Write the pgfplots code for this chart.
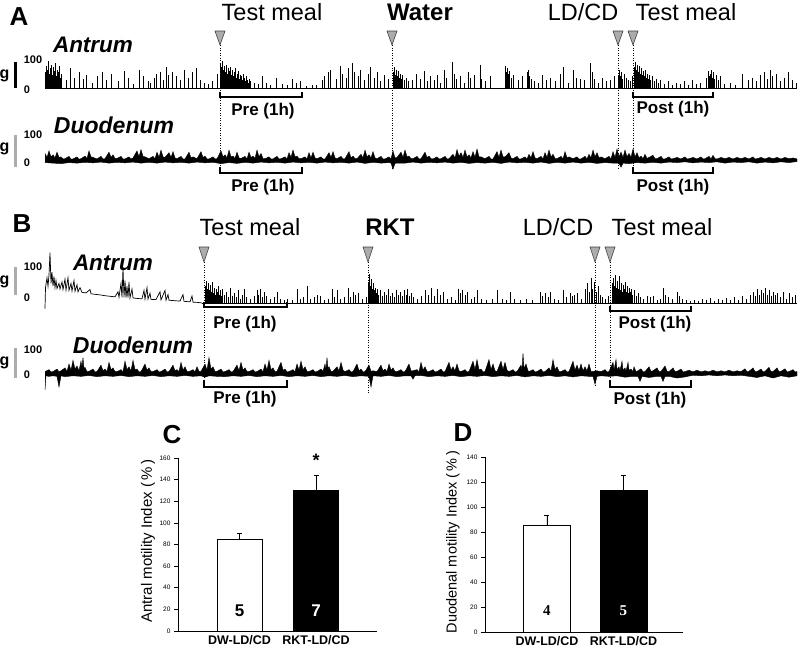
\documentclass[border=0pt]{standalone}
\usepackage{fontspec}
\setmainfont{Liberation Sans}
\newfontfamily\seriffont{Liberation Serif}
\usepackage{pgfplots}
\pgfplotsset{compat=1.18}
\newcommand{\fs}[1]{\fontsize{#1}{#1}\selectfont}
\tikzset{tri/.style={fill=gray!65, draw=black!75, line width=0.6pt},
  dl/.style={black, line width=1pt, dash pattern=on 1pt off 1.5pt},
  br/.style={line width=1.6pt},
  gl/.style={font=\bfseries\fs{16}}, hl/.style={font=\bfseries\fs{11}},
  pl/.style={font=\bfseries\fs{17}, anchor=base}}
\begin{document}
\begin{tikzpicture}
% ---------------- background axis in pixel coordinates ----------------
\begin{axis}[name=bg, at={(0pt,0pt)}, anchor=south west, scale only axis,
  width=800pt, height=649pt, xmin=0, xmax=800, ymin=0, ymax=649,
  y dir=reverse, axis lines=none, clip=false]
\addplot[draw=none] coordinates {(0,0)};
\node[font=\bfseries\fs{26}, anchor=base] at (axis cs:19,25) {A};
\node[font=\fs{23.5}, anchor=base] at (axis cs:272,20) {Test meal};
\node[font=\bfseries\fs{24}, anchor=base] at (axis cs:420,20) {Water};
\node[font=\fs{23.5}, anchor=base] at (axis cs:583,20) {LD/CD};
\node[font=\fs{23.5}, anchor=base] at (axis cs:686,20) {Test meal};
\node[font=\bfseries\itshape\fs{22.5}, anchor=base] at (axis cs:93,52) {Antrum};
\node[font=\bfseries\itshape\fs{23}, anchor=base] at (axis cs:114,133) {Duodenum};
\node[font=\bfseries\fs{26}, anchor=base] at (axis cs:22,232) {B};
\node[font=\fs{23.5}, anchor=base] at (axis cs:250,235) {Test meal};
\node[font=\bfseries\fs{24}, anchor=base] at (axis cs:390,235) {RKT};
\node[font=\fs{23.5}, anchor=base] at (axis cs:558,235) {LD/CD};
\node[font=\fs{23.5}, anchor=base] at (axis cs:662,235) {Test meal};
\node[font=\bfseries\itshape\fs{22.5}, anchor=base] at (axis cs:113,270) {Antrum};
\node[font=\bfseries\itshape\fs{23}, anchor=base] at (axis cs:133,353) {Duodenum};
\node[font=\bfseries\fs{26}] at (axis cs:172,435) {C};
\node[font=\bfseries\fs{26}] at (axis cs:463,433) {D};
% scale bars
\draw[line width=3pt, black] (axis cs:15,62) -- (axis cs:15,88);
\draw[line width=3pt, gray!65] (axis cs:15,135) -- (axis cs:15,167);
\draw[line width=3pt, gray!65] (axis cs:15,267) -- (axis cs:15,295);
\draw[line width=3pt, gray!65] (axis cs:15,348) -- (axis cs:15,378);
\node[gl] at (axis cs:4.5,76) {g};
\node[hl] at (axis cs:33,60) {100};
\node[hl] at (axis cs:27,90) {0};
\node[gl] at (axis cs:4.5,149) {g};
\node[hl] at (axis cs:33,135) {100};
\node[hl] at (axis cs:27,163) {0};
\node[gl] at (axis cs:4.5,282) {g};
\node[hl] at (axis cs:33,267) {100};
\node[hl] at (axis cs:27,298) {0};
\node[gl] at (axis cs:4.5,363) {g};
\node[hl] at (axis cs:33,350) {100};
\node[hl] at (axis cs:27,375) {0};
% triangles
\draw[tri] (axis cs:215,31) -- (axis cs:225,31) -- (axis cs:220,45) -- cycle;
\draw[tri] (axis cs:387,31) -- (axis cs:397,31) -- (axis cs:392,45) -- cycle;
\draw[tri] (axis cs:613,31) -- (axis cs:623,31) -- (axis cs:618,45) -- cycle;
\draw[tri] (axis cs:628,31) -- (axis cs:638,31) -- (axis cs:633,45) -- cycle;
\draw[tri] (axis cs:199,247) -- (axis cs:209,247) -- (axis cs:204,262) -- cycle;
\draw[tri] (axis cs:363,247) -- (axis cs:373,247) -- (axis cs:368,262) -- cycle;
\draw[tri] (axis cs:590,247) -- (axis cs:600,247) -- (axis cs:595,262) -- cycle;
\draw[tri] (axis cs:605,247) -- (axis cs:615,247) -- (axis cs:610,262) -- cycle;
% dotted lines
\draw[dl] (axis cs:220,45) -- (axis cs:220,172);
\draw[dl] (axis cs:392,45) -- (axis cs:392,170);
\draw[dl] (axis cs:618,45) -- (axis cs:618,170);
\draw[dl] (axis cs:633,45) -- (axis cs:633,170);
\draw[dl] (axis cs:204,262) -- (axis cs:204,387);
\draw[dl] (axis cs:368,262) -- (axis cs:368,393);
\draw[dl] (axis cs:595,262) -- (axis cs:595,385);
\draw[dl] (axis cs:610,262) -- (axis cs:610,387);
% brackets
\draw[br] (axis cs:220,92) -- (axis cs:220,97) -- (axis cs:302,97) -- (axis cs:302,92);
\draw[br] (axis cs:220,167) -- (axis cs:220,173) -- (axis cs:302,173) -- (axis cs:302,167);
\draw[br] (axis cs:633,92) -- (axis cs:633,97) -- (axis cs:713,97) -- (axis cs:713,92);
\draw[br] (axis cs:633,167) -- (axis cs:633,173) -- (axis cs:713,173) -- (axis cs:713,167);
\draw[br] (axis cs:204,302) -- (axis cs:204,307) -- (axis cs:287,307) -- (axis cs:287,302);
\draw[br] (axis cs:204,380) -- (axis cs:204,387) -- (axis cs:287,387) -- (axis cs:287,380);
\draw[br] (axis cs:610,306) -- (axis cs:610,311) -- (axis cs:691,311) -- (axis cs:691,306);
\draw[br] (axis cs:610,380) -- (axis cs:610,387) -- (axis cs:691,387) -- (axis cs:691,380);
\node[pl] at (axis cs:263,115) {Pre (1h)};
\node[pl] at (axis cs:263,191) {Pre (1h)};
\node[pl] at (axis cs:673,113) {Post (1h)};
\node[pl] at (axis cs:673,191) {Post (1h)};
\node[pl] at (axis cs:245,328) {Pre (1h)};
\node[pl] at (axis cs:245,403) {Pre (1h)};
\node[pl] at (axis cs:655,328) {Post (1h)};
\node[pl] at (axis cs:650,404) {Post (1h)};
\end{axis}

% ---------------- A: antrum trace ----------------
\begin{axis}[at={(0pt,561pt)}, anchor=south west, scale only axis, width=800pt, height=26pt,
  xmin=0, xmax=800, ymin=0, ymax=100, axis lines=none, clip=false]
\addplot[ycomb, black, line width=0.55pt, mark=none] coordinates {
(45,60)(46,85)(47,70)(48,105)(49,55)(50,75)(51,90)(52,50)(53,80)(54,65)(55,95)(56,45)(57,70)(58,60)(59,85)(60,40)(61,55)
(66,30)(70,75)(74,40)(79,60)(83,35)(86,50)(92,20)(97,45)(102,60)(106,30)(111,55)(118,25)(124,65)(128,40)(133,15)(139,70)(143,45)(148,25)(150,20)(154,40)(156,55)(160,60)(163,30)(166,80)(168,50)(172,60)(176,45)(180,30)(184,70)(188,40)(192,60)(196,75)(200,30)(204,20)(208,15)(212,25)(217,55)
(220,95)(221,80)(222,105)(223,70)(224,85)(225,60)(226,90)(227,55)(228,75)(229,65)(230,80)(231,50)(232,70)(233,45)(234,60)(235,75)(236,40)(237,55)(238,65)(239,35)(240,50)(241,45)(242,30)(243,55)(244,40)(245,25)(246,45)(247,30)(248,20)(249,35)(250,25)
(254,20)(258,15)(262,45)(266,20)(270,10)(276,40)(282,15)(287,10)(292,35)(296,20)(300,25)
(306,8)(312,10)(316,12)
(322,30)(324,45)(328,60)(330,70)(336,35)(340,85)(342,55)(346,40)(348,75)(352,95)(354,60)(358,45)(360,70)(364,30)(368,55)(370,80)(374,40)(377,60)(380,25)(384,50)(388,35)
(393,60)(394,80)(395,50)(396,70)(397,45)(398,65)(399,40)(400,55)(401,35)(402,50)(404,30)(406,40)(408,25)
(412,30)(416,55)(420,35)(424,65)(427,25)(430,45)(434,30)(437,50)(440,20)(444,70)(446,40)(452,100)(454,55)(456,35)(460,45)(464,20)(468,60)(470,40)(474,50)(480,90)(481,35)(485,25)(490,45)(505,85)(506,60)(507,75)(508,55)(509,65)(511,40)(513,50)(518,30)(522,45)(527,60)(528,70)(529,45)(531,35)(534,25)(538,20)(542,50)(546,30)(550,40)(555,25)(560,55)(563,80)(568,20)(573,70)(576,40)(580,35)(584,30)(590,95)(592,60)(594,35)(598,20)(602,40)(606,25)(610,30)(614,45)
(618,50)(619,70)(620,45)(621,60)(622,35)(624,55)(626,40)(628,30)(630,25)(632,45)
(634,80)(635,100)(636,70)(637,90)(638,60)(639,85)(640,55)(641,75)(642,50)(643,65)(644,45)(645,70)(646,40)(647,55)(648,35)(649,50)(650,30)(652,45)(654,25)(656,35)(658,20)(660,30)
(664,15)(668,25)(672,10)(676,20)(680,15)(684,25)(688,12)(692,30)(696,15)(700,20)
(706,40)(708,65)(709,45)(710,55)(711,70)(712,40)(713,60)(714,35)(716,50)(718,30)(720,45)
(724,15)(730,20)(735,10)(742,55)(748,30)(752,40)(756,25)(760,50)(764,60)(767,35)(770,70)(772,45)(776,55)(780,25)(784,40)(788,60)(792,30)(796,20)
};
\addplot[black, line width=0.9pt] coordinates {(45,0)(797,0)};
\end{axis}

% ---------------- A: duodenum trace (band between upper and lower envelope) ----------------
\begin{axis}[at={(0pt,489pt)}, anchor=south west, scale only axis, width=800pt, height=26pt,
  xmin=0, xmax=800, ymin=0, ymax=100, axis lines=none, clip=false]
\addplot[fill=black, draw=black, line width=0.4pt, mark=none] coordinates {
(45,25)(47,10)(49,35)(51,12)(53,20)(55,8)(57,30)(59,10)(61,12)(63,4)(65,5)(69,14)(71,3)(73,4)(77,12)(79,3)(81,5)(85,15)(87,6)(89,35)(91,12)(93,10)(97,4)(101,14)(103,4)(105,5)(109,30)(111,10)(113,20)(115,6)(117,6)(121,14)(123,4)(125,4)(129,12)(131,4)(133,8)(137,35)(139,12)(141,40)(143,14)(145,12)(149,5)(153,14)(155,5)(157,30)(159,10)(161,38)(163,12)(165,10)(169,28)(171,10)(173,32)(175,8)(177,5)(181,14)(183,4)(185,4)(189,30)(191,8)(193,12)(197,5)(201,32)(203,10)(205,15)(207,4)(209,4)(213,12)(215,4)(217,5)(221,35)(223,12)(225,20)(227,8)(229,38)(231,12)(233,15)(235,6)(237,30)(239,8)(241,6)(245,14)(247,4)(249,30)(251,10)(253,15)(255,6)(257,38)(259,12)(261,25)(263,6)(265,5)(269,12)(271,4)(273,4)(277,14)(279,4)(281,5)(285,12)(287,4)(289,28)(291,10)(293,38)(295,12)(297,15)(299,5)(301,5)(305,12)(307,4)(309,28)(311,8)(313,30)(315,8)(317,5)(321,12)(323,4)(325,4)(329,28)(331,10)(333,32)(335,8)(337,5)(341,14)(343,4)(345,5)(349,32)(351,8)(353,15)(355,5)(357,5)(361,22)(363,8)(365,38)(367,12)(369,20)(371,8)(373,32)(375,8)(377,5)(381,14)(383,4)(385,4)(389,12)(391,4)(393,35)(395,8)(397,10)(401,30)(403,10)(405,38)(407,12)(409,15)(411,5)(413,5)(417,14)(419,4)(421,5)(425,30)(427,10)(429,15)(431,5)(433,4)(437,12)(439,4)(441,5)(445,14)(447,4)(449,5)(453,22)(455,8)(457,40)(459,14)(461,28)(463,10)(465,38)(467,12)(469,20)(471,8)(473,32)(475,10)(477,42)(479,12)(481,12)(485,5)(489,14)(491,4)(493,4)(497,32)(499,10)(501,38)(503,12)(505,12)(509,28)(511,8)(513,5)(517,14)(519,4)(521,4)(525,12)(527,4)(529,22)(531,8)(533,32)(535,8)(537,5)(541,14)(543,4)(545,28)(547,10)(549,38)(551,12)(553,22)(555,6)(557,5)(561,14)(563,4)(565,32)(567,8)(569,12)(573,5)(577,12)(579,4)(581,4)(585,14)(587,4)(589,22)(591,8)(593,38)(595,12)(597,28)(599,8)(601,12)(605,5)(609,14)(611,4)(613,32)(615,10)(617,42)(619,12)(621,30)(623,10)(625,38)(627,12)(629,25)(631,10)(633,42)(635,12)(637,28)(639,8)(641,15)(643,5)(645,22)(647,6)(649,10)(653,18)(655,5)(657,5)(661,14)(663,4)(665,4)(669,12)(671,4)(673,5)(677,10)(681,4)(685,12)(687,4)(689,5)(693,10)(697,4)(701,12)(703,4)(705,5)(709,14)(711,4)(713,18)(715,5)(717,4)(721,10)(725,5)(729,10)(733,4)(737,10)(741,5)(745,10)(749,4)(753,12)(755,4)(757,5)(761,10)(765,4)(769,10)(773,5)(777,10)(781,4)(785,10)(789,5)(793,8)(797,4)
(797,-6)(789,-10)(781,-7)(773,-11)(765,-8)(757,-12)(749,-7)(741,-10)(733,-8)(725,-12)(717,-7)(709,-10)(701,-8)(693,-11)(685,-7)(677,-10)(669,-8)(661,-12)(653,-9)(645,-12)(637,-10)(629,-14)(623,-12)(621,-28)(619,-12)(613,-12)(605,-10)(597,-13)(589,-9)(581,-12)(573,-8)(565,-12)(557,-9)(549,-13)(541,-8)(533,-12)(525,-9)(517,-11)(509,-8)(501,-13)(493,-9)(485,-12)(477,-10)(469,-13)(461,-9)(453,-12)(445,-8)(437,-11)(429,-9)(421,-12)(413,-8)(405,-12)(397,-12)(395,-13)(393,-35)(391,-12)(389,-10)(381,-12)(373,-9)(365,-13)(357,-8)(349,-12)(341,-9)(333,-11)(325,-8)(317,-12)(309,-9)(301,-11)(293,-8)(285,-12)(277,-9)(269,-11)(261,-8)(253,-12)(245,-9)(237,-13)(229,-10)(221,-14)(213,-9)(205,-11)(197,-8)(189,-12)(181,-9)(173,-11)(165,-8)(157,-12)(149,-9)(141,-12)(133,-8)(125,-11)(117,-9)(109,-12)(101,-8)(93,-11)(85,-9)(77,-12)(69,-10)(61,-14)(53,-12)(45,-10)
};
\end{axis}

% ---------------- B: antrum trace ----------------
\begin{axis}[at={(0pt,346pt)}, anchor=south west, scale only axis, width=800pt, height=28pt,
  xmin=0, xmax=800, ymin=0, ymax=100, axis lines=none, clip=false]
\addplot[black, line width=0.7pt, mark=none] coordinates {
(45,-20)(45.5,55)(47,90)(48,60)(49,100)(50,180)(51,70)(52,110)(53,60)(54,95)(55,55)(56,80)(57,52)(59,70)(60,50)(62,75)(63,48)(65,85)(66,46)(68,90)(69,45)(71,70)(72,43)(74,80)(75,42)(77,65)(78,40)(80,55)(82,38)(86,36)(90,48)(91,33)(95,31)(100,29)(105,26)(110,24)(115,22)(118,40)(119,21)(121,70)(122,20)(123,125)(124,20)(125,80)(126,19)(127,60)(128,19)(129,75)(130,18)(132,50)(133,18)(138,16)(142,15)(144,45)(145,14)(147,55)(148,14)(150,35)(151,13)(156,12)(160,40)(161,11)(165,45)(166,10)(168,30)(169,10)(175,8)(180,7)(183,30)(184,6)(190,4)(192,25)(193,3)(198,2)(202,0)
};
\addplot[ycomb, black, line width=0.55pt, mark=none] coordinates {
(205,60)(206,80)(207,50)(208,70)(209,45)(210,65)(211,40)(212,75)(213,35)(214,55)(215,30)(216,50)(217,40)(218,60)(219,30)(220,45)(221,25)(222,50)(224,30)(226,40)(228,20)(230,55)(232,25)(234,35)(236,20)(238,45)(240,15)(242,30)(244,50)(246,20)(250,15)(254,25)(257,45)(258,30)(260,50)(262,20)(264,40)(266,25)(270,15)(274,20)(277,40)(280,15)(284,10)(287,15)(292,10)(297,50)(300,15)(303,20)(307,60)(310,15)(314,20)(317,30)(320,25)(324,10)(328,15)(332,50)(334,20)(337,45)(340,15)(344,20)(348,55)(350,20)(353,40)(355,30)(358,35)(362,15)(366,20)
(368,70)(369,105)(370,60)(371,85)(372,50)(373,70)(374,45)(375,55)(376,35)(377,50)(378,30)(380,45)(382,25)(384,40)(386,30)(388,50)(390,25)(392,35)(394,20)(396,45)(398,30)(400,40)(402,25)(404,45)(406,30)(407,50)(409,25)(411,35)(413,20)
(417,15)(421,25)(425,45)(428,30)(431,55)(434,25)(437,50)(440,30)(443,40)(447,15)(451,20)(455,10)(458,50)(460,35)(462,45)(465,30)(467,40)(471,15)(474,20)(477,45)(481,15)(486,10)(492,15)(497,45)(502,15)(506,10)(510,40)(514,15)(520,10)(526,15)(532,10)(540,40)(542,25)(545,35)(548,20)(550,40)(554,15)(558,10)(563,45)(566,20)(570,35)(572,25)(574,30)(577,35)(581,15)
(585,50)(587,70)(589,40)(591,90)(592,50)(594,75)(596,40)(598,60)(600,30)(602,20)(605,15)(608,25)
(612,70)(613,90)(614,60)(615,100)(616,55)(617,80)(618,50)(619,95)(620,45)(621,70)(622,40)(623,65)(624,50)(625,75)(626,40)(627,60)(628,35)(629,55)(630,40)(631,50)(632,30)(634,45)(636,25)(638,35)(640,20)(643,15)(647,25)(650,20)(653,25)(657,10)(660,15)(663,55)(665,30)(668,20)(672,15)(677,40)(679,25)(682,15)(686,10)(690,8)(694,12)(698,8)(702,15)(706,10)(710,18)(714,8)(718,15)(722,10)(726,18)(730,12)(734,20)(738,12)(742,25)(746,15)(750,30)(753,40)(755,25)(757,50)(759,30)(761,45)(763,35)(765,55)(767,30)(769,45)(771,25)(773,40)(775,30)(777,35)(780,20)(783,40)(786,15)(789,35)(792,20)(795,30)
};
\addplot[black, line width=0.9pt] coordinates {(202,0)(797,0)};
\end{axis}

% ---------------- B: duodenum trace (band) ----------------
\begin{axis}[at={(0pt,276pt)}, anchor=south west, scale only axis, width=800pt, height=28pt,
  xmin=0, xmax=800, ymin=0, ymax=100, axis lines=none, clip=false]
\addplot[fill=black, draw=black, line width=0.4pt, mark=none] coordinates {
(45,5)(49,12)(51,4)(53,5)(57,14)(59,4)(61,8)(65,18)(67,6)(69,32)(71,10)(73,45)(75,14)(77,25)(79,8)(81,42)(82,20)(83,55)(84,15)(85,20)(87,5)(89,6)(93,14)(95,4)(97,5)(101,28)(103,8)(105,14)(107,5)(109,38)(111,12)(113,18)(115,5)(117,5)(121,12)(123,4)(125,42)(127,12)(129,22)(131,8)(133,45)(135,12)(137,14)(139,4)(141,5)(145,32)(147,10)(149,18)(151,5)(153,5)(157,12)(159,4)(161,5)(165,14)(167,4)(169,5)(173,28)(175,8)(177,12)(179,5)(181,38)(183,10)(185,22)(187,6)(189,5)(193,12)(195,4)(197,22)(199,6)(201,6)(205,32)(207,10)(209,55)(211,14)(213,22)(215,6)(217,6)(221,14)(223,4)(225,5)(229,12)(231,4)(233,5)(237,28)(239,8)(241,38)(243,10)(245,18)(247,5)(249,5)(253,12)(255,4)(257,5)(261,14)(263,4)(265,32)(267,10)(269,45)(271,12)(273,18)(275,5)(277,6)(281,38)(283,10)(285,14)(287,4)(289,5)(293,12)(295,4)(297,32)(299,10)(301,42)(303,12)(305,22)(307,6)(309,5)(313,12)(315,4)(317,5)(321,14)(323,6)(325,32)(326,12)(327,55)(328,14)(329,22)(331,6)(333,6)(337,22)(339,8)(341,38)(343,10)(345,5)(349,12)(351,4)(353,5)(357,32)(359,8)(361,14)(363,4)(365,5)(369,28)(371,6)(373,8)(377,5)(381,28)(383,8)(385,14)(387,5)(389,32)(391,10)(393,18)(395,5)(397,5)(401,12)(403,4)(405,5)(409,32)(411,8)(413,8)(417,12)(419,4)(421,38)(423,10)(425,22)(427,6)(429,5)(433,12)(435,4)(437,5)(441,14)(443,4)(445,5)(449,38)(451,10)(453,22)(455,8)(457,32)(459,8)(461,5)(465,12)(467,4)(469,5)(473,42)(475,12)(477,48)(479,12)(481,14)(483,4)(485,5)(489,48)(491,12)(493,32)(495,8)(497,5)(501,42)(503,12)(505,38)(507,10)(509,5)(513,12)(515,4)(517,5)(521,28)(522,10)(523,70)(524,15)(526,32)(528,8)(529,5)(533,12)(535,4)(537,5)(541,14)(543,4)(545,5)(549,18)(551,6)(553,48)(555,12)(557,22)(559,6)(561,5)(565,12)(567,4)(569,5)(573,42)(575,10)(577,28)(579,8)(581,32)(583,8)(585,22)(587,8)(589,32)(591,6)(593,6)(597,8)(601,5)(605,12)(607,4)(609,5)(613,38)(614,10)(616,48)(617,12)(619,22)(620,8)(622,42)(623,10)(625,18)(626,6)(628,38)(629,10)(631,14)(633,5)(634,22)(636,5)(637,6)(641,15)(643,4)(645,5)(649,22)(651,6)(653,8)(657,18)(659,5)(661,6)(665,25)(667,6)(669,5)(673,18)(675,5)(677,6)(681,14)(683,4)(685,5)(689,10)(693,4)(697,10)(701,4)(705,8)(709,4)(713,10)(717,4)(721,8)(725,4)(729,10)(733,4)(737,8)(741,5)(745,15)(747,4)(749,6)(753,18)(755,5)(757,5)(761,14)(763,4)(765,6)(769,20)(771,5)(773,5)(777,18)(779,5)(781,6)(785,15)(787,4)(789,5)(793,12)(795,4)(797,5)
(797,-10)(789,-15)(781,-10)(773,-18)(765,-10)(757,-16)(749,-12)(741,-8)(733,-10)(725,-7)(717,-10)(709,-7)(701,-10)(693,-8)(685,-14)(677,-18)(669,-12)(665,-12)(663,-30)(661,-12)(657,-12)(649,-16)(642,-12)(640,-30)(638,-12)(633,-12)(625,-15)(617,-10)(609,-12)(601,-10)(597,-12)(595,-40)(593,-12)(589,-12)(581,-10)(573,-14)(565,-10)(557,-13)(549,-9)(541,-12)(533,-10)(525,-14)(517,-9)(509,-12)(501,-10)(493,-13)(485,-9)(477,-12)(469,-10)(461,-13)(453,-9)(445,-12)(437,-10)(429,-13)(421,-9)(415,-10)(413,-22)(411,-10)(405,-10)(397,-13)(389,-9)(381,-12)(373,-10)(371,-50)(369,-12)(361,-10)(353,-13)(345,-9)(337,-12)(329,-10)(321,-13)(313,-9)(305,-12)(297,-10)(289,-13)(281,-9)(273,-12)(265,-10)(257,-13)(249,-9)(241,-12)(233,-10)(225,-13)(217,-12)(209,-10)(205,-15)(201,-10)(193,-12)(185,-9)(177,-12)(169,-10)(161,-13)(153,-9)(145,-12)(137,-10)(129,-13)(121,-9)(113,-12)(105,-10)(97,-13)(89,-9)(81,-12)(73,-10)(65,-13)(61,-10)(59,-50)(57,-12)(53,-10)(49,-12)(46,-10)(45,-60)
};
\end{axis}

% ---------------- C: antral motility index ----------------
\begin{axis}[at={(178pt,18pt)}, anchor=south west, scale only axis,
  width=199pt, height=173pt, xmin=0.196, xmax=2.797, ymin=0, ymax=160,
  axis lines*=left, axis line style={line width=0.8pt},
  ytick={0,20,...,160}, xtick={1,2}, xticklabels={DW-LD/CD,RKT-LD/CD},
  xtick style={draw=none}, ytick style={black, line width=0.6pt},
  tick align=outside, major tick length=4pt,
  /pgf/number format/assume math mode=true,
  yticklabel style={font=\fs{6.5}},
  xticklabel style={font=\bfseries\fs{12.5}, yshift=3pt},
  ylabel={Antral motility Index (\thinspace\%\thinspace)},
  ylabel style={at={(axis description cs:-0.151,0.52)}, anchor=center, font=\fs{15}},
  ybar, bar width=45pt, clip=false]
\addplot[bar shift=0pt, fill=white, draw=black, line width=0.8pt,
  error bars/.cd, y dir=plus, y explicit,
  error bar style={line width=0.8pt, black},
  error mark options={rotate=90, mark size=2.5pt, line width=0.8pt, black}]
  coordinates {(1,85) +- (0,5)};
\addplot[bar shift=0pt, fill=black, draw=black, line width=0.8pt,
  error bars/.cd, y dir=plus, y explicit,
  error bar style={line width=0.8pt, black},
  error mark options={rotate=90, mark size=2.5pt, line width=0.8pt, black}]
  coordinates {(2,130) +- (0,14)};
\node[font=\bfseries\fs{17}, anchor=base] at (axis cs:1,13) {5};
\node[font=\bfseries\fs{17}, anchor=base, white] at (axis cs:2,13) {7};
\node[font=\bfseries\fs{18}, anchor=base] at (axis cs:2,152) {*};
\end{axis}

% ---------------- D: duodenal motility index ----------------
\begin{axis}[at={(485pt,17pt)}, anchor=south west, scale only axis,
  width=198pt, height=175pt, xmin=0.19, xmax=2.778, ymin=0, ymax=140,
  axis lines*=left, axis line style={line width=0.8pt},
  ytick={0,20,...,140}, xtick={1,2}, xticklabels={DW-LD/CD,RKT-LD/CD},
  xtick style={draw=none}, ytick style={black, line width=0.6pt},
  tick align=outside, major tick length=4pt,
  /pgf/number format/assume math mode=true,
  yticklabel style={font=\fs{6.5}},
  xticklabel style={font=\bfseries\fs{12.5}, yshift=3pt},
  ylabel={Duodenal motility Index (\thinspace\%\thinspace)},
  ylabel style={at={(axis description cs:-0.162,0.514)}, anchor=center, font=\fs{14.5}},
  ybar, bar width=47pt, clip=false]
\addplot[bar shift=0pt, fill=white, draw=black, line width=0.8pt,
  error bars/.cd, y dir=plus, y explicit,
  error bar style={line width=0.8pt, black},
  error mark options={rotate=90, mark size=2.5pt, line width=0.8pt, black}]
  coordinates {(1,85) +- (0,8)};
\addplot[bar shift=0pt, fill=black, draw=black, line width=0.8pt,
  error bars/.cd, y dir=plus, y explicit,
  error bar style={line width=0.8pt, black},
  error mark options={rotate=90, mark size=2.5pt, line width=0.8pt, black}]
  coordinates {(2,113) +- (0,12)};
\node[font=\seriffont\bfseries\fs{15}, anchor=base] at (axis cs:1,13.6) {4};
\node[font=\seriffont\bfseries\fs{15}, anchor=base, white] at (axis cs:2,13.6) {5};
\end{axis}
\pgfresetboundingbox
\path[use as bounding box] (0pt,0pt) rectangle (800pt,649pt);
\end{tikzpicture}
\end{document}
